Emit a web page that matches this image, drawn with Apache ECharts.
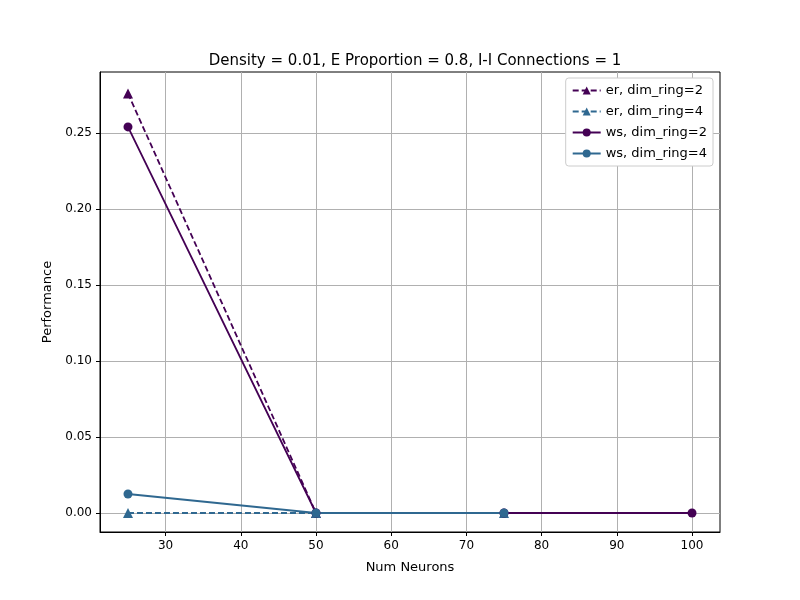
<!DOCTYPE html>
<html><head><meta charset="utf-8">
<script src="https://cdn.jsdelivr.net/npm/echarts@6/dist/echarts.min.js"></script>
<style>body{margin:0}#c{width:800px;height:600px}</style></head>
<body><div id="c"></div>
<script>
const xTicks = [30, 40, 50, 60, 70, 80, 90, 100]
const yTicks = [0, 0.05, 0.10, 0.15, 0.20, 0.25]
const erDim2 = [[25, 0.276], [50, 0]]
const erDim4 = [[25, 0], [50, 0], [75, 0]]
const wsDim2 = [[25, 0.254], [50, 0], [75, 0], [100, 0]]
const wsDim4 = [[25, 0.0125], [50, 0], [75, 0]]
const c2 = '#440154', c4 = '#2f6890'
const font = 'DejaVu Sans'
let myChart = echarts.init(document.getElementById('c'))
function s(name, data, color, dashed, symbol) {
    return {
        name: name, type: 'line', data: data, symbol: symbol, symbolSize: symbol == 'circle' ? 9 : 10,
        itemStyle: { color: color },
        lineStyle: { color: color, width: 1.8, type: dashed ? [6, 3] : 'solid' }
    }
}
const axisCommon = {
    axisLine: { show: true, onZero: false, lineStyle: { color: '#000' } },
    axisTick: { show: true, length: 4, inside: false, lineStyle: { color: '#000' } },
    splitLine: { show: true, lineStyle: { color: '#b0b0b0', width: 1 } },
    axisLabel: { color: '#000', fontSize: 12, fontFamily: font },
    nameLocation: 'middle',
    nameTextStyle: { color: '#000', fontSize: 13, fontFamily: font }
}
myChart.setOption({
    animation: false,
    title: { text: 'Density = 0.01, E Proportion = 0.8, I-I Connections = 1', left: 410, top: 49, textAlign: 'center',
        textStyle: { fontSize: 15, fontWeight: 'normal', fontFamily: font, color: '#000' } },
    grid: { left: 100, right: 80, top: 72, bottom: 68, show: true, borderColor: '#000', borderWidth: 1 },
    legend: {
        orient: 'vertical', right: 87, top: 78, itemWidth: 28, itemHeight: 10, itemGap: 8,
        borderColor: '#ccc', borderWidth: 1, borderRadius: 3, padding: [6, 6], backgroundColor: '#fff',
        textStyle: { fontSize: 13, fontFamily: font, color: '#000' }
    },
    xAxis: Object.assign({}, axisCommon, {
        type: 'value', min: 21.28, max: 103.72, name: 'Num Neurons', nameGap: 29,
        axisLabel: Object.assign({}, axisCommon.axisLabel, { customValues: xTicks }),
        axisTick: Object.assign({}, axisCommon.axisTick, { customValues: xTicks })
    }),
    yAxis: Object.assign({}, axisCommon, {
        type: 'value', min: -0.0125, max: 0.2901, name: 'Performance', nameGap: 46,
        axisLabel: Object.assign({}, axisCommon.axisLabel, { customValues: yTicks, formatter: v => v.toFixed(2) }),
        axisTick: Object.assign({}, axisCommon.axisTick, { customValues: yTicks })
    }),
    series: [
        s('er, dim_ring=2', erDim2, c2, true, 'triangle'),
        s('er, dim_ring=4', erDim4, c4, true, 'triangle'),
        s('ws, dim_ring=2', wsDim2, c2, false, 'circle'),
        s('ws, dim_ring=4', wsDim4, c4, false, 'circle')
    ]
})
</script></body></html>
